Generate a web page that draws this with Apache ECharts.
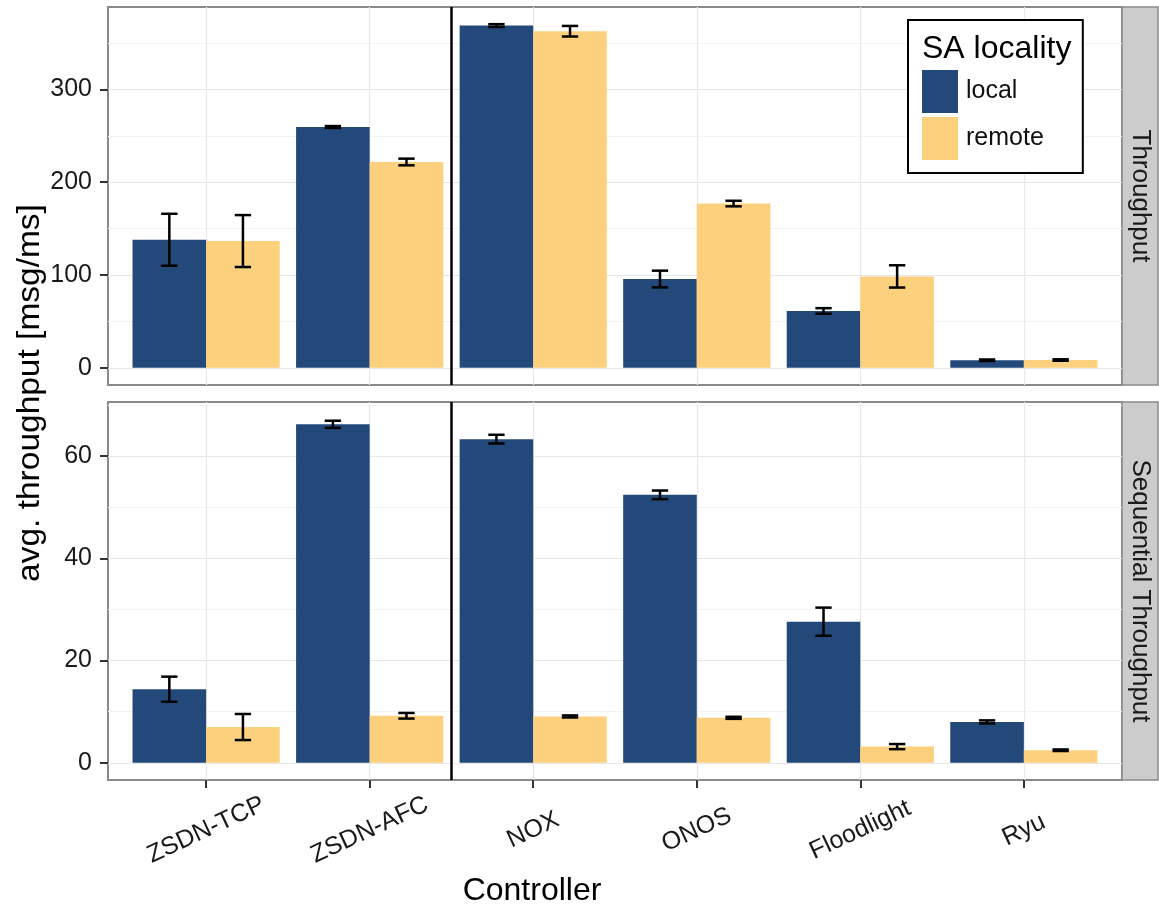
<!DOCTYPE html>
<html><head><meta charset="utf-8">
<script src="https://cdn.jsdelivr.net/npm/echarts@6/dist/echarts.min.js"></script>
<style>html,body{margin:0;padding:0;background:#fff}#c{width:1159px;height:909px}</style>
</head><body><div id="c"></div>
<script>
// ---------------- data ----------------
const categories = ['ZSDN-TCP', 'ZSDN-AFC', 'NOX', 'ONOS', 'Floodlight', 'Ryu'];
const seriesNames = ['local', 'remote'];
const facetLabels = ['Throughput', 'Sequential Throughput'];
// Throughput facet (mean, +/- error)
const throughputLocal = [138, 259.5, 368.8, 95.7, 61.3, 8.2];
const throughputLocalErr = [28, 1, 1.5, 9, 3, 0.8];
const throughputRemote = [136.6, 221.8, 362.7, 177, 98.5, 8.4];
const throughputRemoteErr = [28, 3.6, 5.7, 3, 12, 0.8];
// Sequential Throughput facet
const seqLocal = [14.4, 66.2, 63.3, 52.4, 27.6, 8.0];
const seqLocalErr = [2.45, 0.7, 0.85, 0.85, 2.75, 0.3];
const seqRemote = [7.0, 9.2, 9.07, 8.8, 3.17, 2.46];
const seqRemoteErr = [2.55, 0.55, 0.2, 0.2, 0.5, 0.15];
// tick labels
const throughputTicks = [0, 100, 200, 300];
const throughputMinorTicks = [50, 150, 250, 350];
const seqTicks = [0, 20, 40, 60];
const seqMinorTicks = [10, 30, 50, 70];
const dividerPosition = 1.5;
const legendTitle = 'SA locality';
const xTitle = 'Controller';
const yTitle = 'avg. throughput [msg/ms]';

// ---------------- layout / style ----------------
const FONT = '"Liberation Sans", Arial, Helvetica, sans-serif';
const COLORS = ['#23487a', '#fcd07c'];
const L = 108, W = 1014, H = 378, TOPS = [7, 402];
const UNIT = W / 6.2;
const CL = L + 0.6 * UNIT, CW = 5 * UNIT;
const YRANGE = [[-18.5, 388.8], [-3.36, 70.56]];
const MAJOR = [throughputTicks, seqTicks];
const MINOR = [throughputMinorTicks, seqMinorTicks];
const PANEL_DATA = [
  [[throughputLocal, throughputLocalErr], [throughputRemote, throughputRemoteErr]],
  [[seqLocal, seqLocalErr], [seqRemote, seqRemoteErr]]
];
const BARW = 0.45, CAP = 0.05;

const grid = [], xAxis = [], yAxis = [], series = [], graphic = [];

for (let p = 0; p < 2; p++) {
  const top = TOPS[p];
  const gFrame = grid.length;
  grid.push({ left: L, top: top, width: W, height: H, show: true, borderColor: '#8a8a8a', borderWidth: 2, backgroundColor: '#fff' });
  const gCenter = grid.length;
  grid.push({ left: CL, top: top, width: CW, height: H });

  xAxis.push({ gridIndex: gFrame, type: 'value', min: 0, max: 1, show: false });
  const xc = xAxis.length;
  xAxis.push({
    gridIndex: gCenter, type: 'value', min: 0, max: 5, interval: 1, position: 'bottom',
    axisLine: { show: false, onZero: false },
    axisTick: { show: p === 1, length: 8, lineStyle: { color: '#333', width: 2 } },
    axisLabel: {
      show: p === 1, formatter: v => categories[v] || '', rotate: 25,
      align: 'center', verticalAlign: 'middle', margin: 50,
      fontSize: 25, color: '#1a1a1a', fontFamily: FONT
    },
    splitLine: { show: true, lineStyle: { color: '#e9e9e9', width: 1.2 } }
  });

  yAxis.push({
    gridIndex: gFrame, type: 'value', min: YRANGE[p][0], max: YRANGE[p][1],
    axisLine: { show: false, onZero: false },
    axisTick: { show: true, length: 8, customValues: MAJOR[p], lineStyle: { color: '#333', width: 2 } },
    axisLabel: { customValues: MAJOR[p], margin: 16, fontSize: 25, color: '#1a1a1a', fontFamily: FONT },
    splitLine: { show: true, lineStyle: { color: '#e6e6e6', width: 1.2 } }
  });
  yAxis.push({
    gridIndex: gFrame, type: 'value', position: 'right', min: YRANGE[p][0], max: YRANGE[p][1],
    axisLine: { show: false, onZero: false },
    axisTick: { show: false, customValues: MINOR[p] },
    axisLabel: { show: false, customValues: MINOR[p] },
    splitLine: { show: true, lineStyle: { color: '#f3f3f3', width: 1 } }
  });
  const yc = yAxis.length;
  yAxis.push({ gridIndex: gCenter, type: 'value', min: YRANGE[p][0], max: YRANGE[p][1], show: false });

  for (let g = 0; g < 2; g++) {
    const [means, errs] = PANEL_DATA[p][g];
    const off = g === 0 ? -BARW : 0;
    series.push({
      type: 'custom', name: seriesNames[g], xAxisIndex: xc, yAxisIndex: yc,
      itemStyle: { color: COLORS[g] }, z: 3,
      data: categories.map((c, i) => [i, means[i], means[i] - errs[i], means[i] + errs[i]]),
      renderItem: function (params, api) {
        const i = api.value(0), v = api.value(1), lo = api.value(2), hi = api.value(3);
        const a = api.coord([i + off, v]);
        const b = api.coord([i + off + BARW, 0]);
        const cx = api.coord([i + off + BARW / 2, 0])[0];
        const c1 = api.coord([i + off + BARW / 2 - CAP, 0])[0];
        const c2 = api.coord([i + off + BARW / 2 + CAP, 0])[0];
        const yl = api.coord([i, lo])[1], yh = api.coord([i, hi])[1];
        const ls = { stroke: '#000', lineWidth: 2.5 };
        return {
          type: 'group', children: [
            { type: 'rect', shape: { x: a[0], y: a[1], width: b[0] - a[0], height: b[1] - a[1] }, style: { fill: api.visual('color') } },
            { type: 'line', shape: { x1: cx, y1: yl, x2: cx, y2: yh }, style: ls, z2: 5 },
            { type: 'line', shape: { x1: c1, y1: yl, x2: c2, y2: yl }, style: ls, z2: 5 },
            { type: 'line', shape: { x1: c1, y1: yh, x2: c2, y2: yh }, style: ls, z2: 5 }
          ]
        };
      }
    });
  }
  series.push({
    type: 'line', data: [], xAxisIndex: xc, yAxisIndex: yc, z: 4,
    markLine: {
      silent: true, symbol: 'none', label: { show: false }, animation: false,
      lineStyle: { color: '#000', width: 2.5, type: 'solid' },
      data: [{ xAxis: dividerPosition }]
    }
  });

  // facet strip
  graphic.push({ type: 'rect', shape: { x: L + W, y: top, width: 36, height: H }, style: { fill: '#cccccc', stroke: '#8a8a8a', lineWidth: 1.5 } });
  graphic.push({
    type: 'text', x: L + W + 18, y: top + H / 2, rotation: -Math.PI / 2,
    style: { text: facetLabels[p], fontSize: 26, fontFamily: FONT, fill: '#1a1a1a', align: 'center', verticalAlign: 'middle' }
  });
}

graphic.push({
  type: 'text', x: 30, y: 393, rotation: Math.PI / 2, scaleX: 1.08,
  style: { text: yTitle, fontSize: 31, fontFamily: FONT, fill: '#000', align: 'center', verticalAlign: 'middle' }
});
graphic.push({
  type: 'text', x: 532, y: 891,
  style: { text: xTitle, fontSize: 32, fontFamily: FONT, fill: '#000', align: 'center', verticalAlign: 'middle' }
});

const option = {
  animation: false,
  backgroundColor: '#fff',
  title: { text: legendTitle, left: 917, top: 28, textStyle: { fontSize: 32, fontWeight: 'normal', color: '#000', fontFamily: FONT }, z: 10 },
  legend: {
    data: seriesNames, orient: 'vertical', left: 908, top: 20,
    padding: [50, 39, 13, 14], itemWidth: 36, itemHeight: 43, itemGap: 4, icon: 'rect',
    borderColor: '#000', borderWidth: 2, backgroundColor: '#fff', selectedMode: false,
    textStyle: { fontSize: 25, color: '#111', fontFamily: FONT, padding: [0, 0, 0, 3] }
  },
  grid, xAxis, yAxis, series, graphic
};
echarts.init(document.getElementById('c')).setOption(option);
</script></body></html>
